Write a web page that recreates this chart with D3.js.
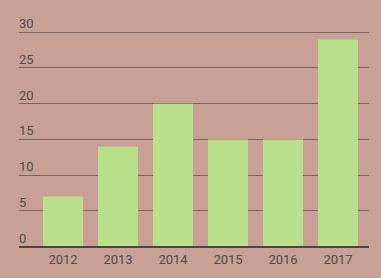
<!DOCTYPE html>
<html>
<head>
<meta charset="utf-8">
<script src="https://cdn.jsdelivr.net/npm/d3@7"></script>
<style>
  body { margin: 0; background: #c9a096; }
  text { font-family: Roboto, sans-serif; }
</style>
</head>
<body>
<div id="chart"></div>
<script>
var years = ["2012", "2013", "2014", "2015", "2016", "2017"];
var values = [7, 14, 20, 15, 15, 29];
var yTicks = [0, 5, 10, 15, 20, 25, 30];

var width = 381, height = 278;

var svg = d3.select("#chart").append("svg")
	.attr("width", width)
	.attr("height", height);

svg.append("rect")
	.attr("width", width)
	.attr("height", height)
	.style("fill", "#c9a096");

var x = d3.scaleBand()
	.domain(years)
	.range([43, 358])
	.paddingInner(15 / 55)
	.paddingOuter(0);

var y = d3.scaleLinear()
	.domain([0, 30])
	.range([246.5, 32.3]);

// grid lines
svg.selectAll(".grid")
	.data(yTicks.filter(function (d) { return d > 0; }))
	.enter()
	.append("line")
	.attr("class", "grid")
	.attr("x1", 19)
	.attr("x2", 369)
	.attr("y1", function (d) { return Math.floor(y(d)) + 0.5; })
	.attr("y2", function (d) { return Math.floor(y(d)) + 0.5; })
	.style("stroke", "#7a655e")
	.style("stroke-width", 1);

// y labels
svg.selectAll(".ylab")
	.data(yTicks)
	.enter()
	.append("text")
	.attr("class", "ylab")
	.attr("x", 19)
	.attr("y", function (d) { return y(d) - 4; })
	.text(function (d) { return d; })
	.style("font-size", "13px")
	.style("fill", "#4f4a4a");

// bars
svg.selectAll(".bar")
	.data(values)
	.enter()
	.append("rect")
	.attr("class", "bar")
	.attr("x", function (d, i) { return x(years[i]); })
	.attr("width", x.bandwidth())
	.attr("y", function (d) { return y(d); })
	.attr("height", function (d) { return y(0) - y(d); })
	.style("fill", "#b8e08a");

// baseline
svg.append("line")
	.attr("x1", 19)
	.attr("x2", 369)
	.attr("y1", y(0) + 0.5)
	.attr("y2", y(0) + 0.5)
	.style("stroke", "#4a4444")
	.style("stroke-width", 2);

// x labels
svg.selectAll(".xlab")
	.data(years)
	.enter()
	.append("text")
	.attr("class", "xlab")
	.attr("x", function (d) { return x(d) + x.bandwidth() / 2; })
	.attr("y", 263.5)
	.attr("text-anchor", "middle")
	.text(function (d) { return d; })
	.style("font-size", "13px")
	.style("fill", "#4f4a4a");
</script>
</body>
</html>
